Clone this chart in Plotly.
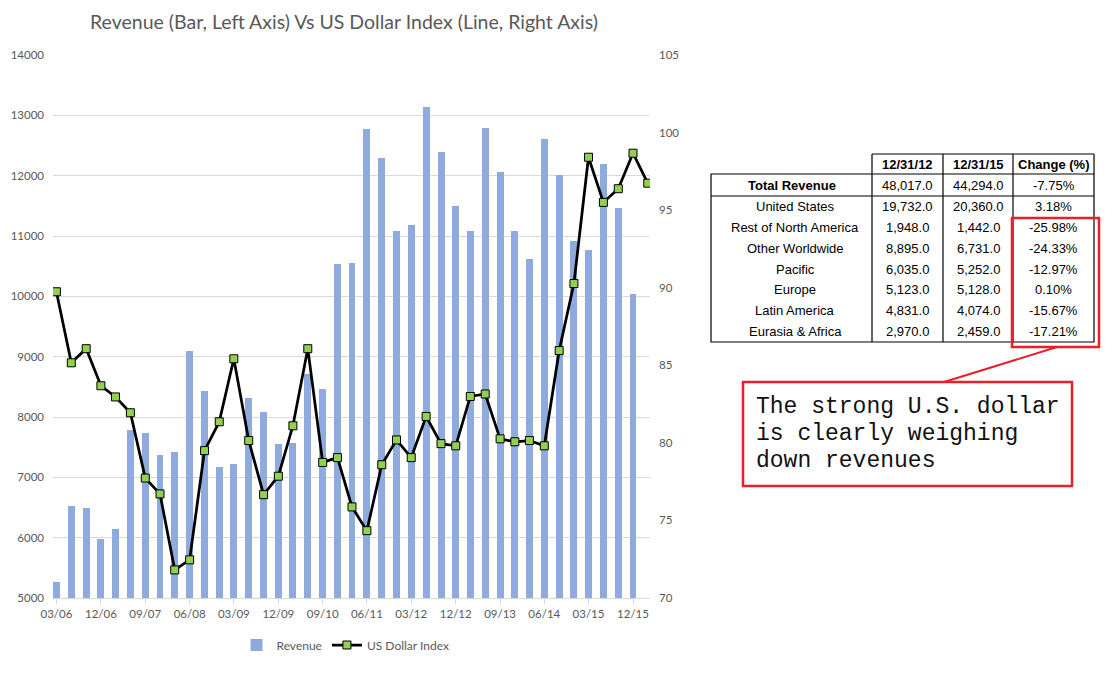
import plotly.graph_objects as go
import pandas as pd

# quarter ends shown on the chart (last one has no revenue bar yet)
quarters = ["03/06", "06/06", "09/06", "12/06", "03/07", "06/07", "09/07", "12/07",
            "03/08", "06/08", "09/08", "12/08", "03/09", "06/09", "09/09", "12/09",
            "03/10", "06/10", "09/10", "12/10", "03/11", "06/11", "09/11", "12/11",
            "03/12", "06/12", "09/12", "12/12", "03/13", "06/13", "09/13", "12/13",
            "03/14", "06/14", "09/14", "12/14", "03/15", "06/15", "09/15", "12/15",
            "03/16"]

revenue = [5260, 6520, 6490, 5980, 6140, 7790, 7740, 7370, 7420, 9095,
           8430, 7170, 7220, 8315, 8080, 7555, 7570, 8715, 8460, 10535,
           10555, 12780, 12300, 11090, 11190, 13130, 12385, 11500, 11090, 12795,
           12065, 11090, 10625, 12610, 12015, 10925, 10760, 12200, 11470, 10040]

usd_index = [89.74, 85.16, 86.07, 83.68, 82.96, 81.94, 77.73, 76.71, 71.81, 72.46,
             79.50, 81.36, 85.42, 80.15, 76.66, 77.85, 81.10, 86.07, 78.74, 79.05,
             75.87, 74.34, 78.59, 80.19, 79.05, 81.70, 79.95, 79.81, 82.99, 83.15,
             80.26, 80.07, 80.15, 79.81, 85.95, 90.27, 98.41, 95.50, 96.38, 98.67,
             96.74]

# regional revenue table
header = ["12/31/12", "12/31/15", "Change (%)"]
regions = ["United States", "Rest of North America", "Other Worldwide", "Pacific",
           "Europe", "Latin America", "Eurasia & Africa"]
rev_2012 = [19732.0, 1948.0, 8895.0, 6035.0, 5123.0, 4831.0, 2970.0]
rev_2015 = [20360.0, 1442.0, 6731.0, 5252.0, 5128.0, 4074.0, 2459.0]
total_2012 = 48017.0
total_2015 = 44294.0

note_lines = ["The strong U.S. dollar", "is clearly weighing", "down revenues"]

dates = pd.to_datetime(quarters, format="%m/%y")

W, H = 1115, 678
L, R, T, B = 53, 650, 55, 598  # plot area in pixels


def px(x):
    return (x - L) / (R - L)


def py(y):
    return (B - y) / (B - T)


fig = go.Figure()
fig.add_trace(go.Bar(
    x=dates[:len(revenue)], y=revenue, name="Revenue",
    marker=dict(color="#8FAADC", line=dict(width=0)),
    width=43 * 86400000,
))
fig.add_trace(go.Scatter(
    x=dates, y=usd_index, name="US Dollar Index", yaxis="y2",
    mode="lines+markers",
    line=dict(color="black", width=2.75),
    marker=dict(symbol="square", size=8, color="#92D050",
                line=dict(color="black", width=1)),
))

grey = "#595959"
fig.update_layout(
    width=W, height=H,
    margin=dict(l=L, r=W - R, t=T, b=H - B, pad=0),
    paper_bgcolor="white", plot_bgcolor="white",
    font=dict(family="Lato", color=grey, size=11),
    title=dict(text="Revenue (Bar, Left Axis) Vs US Dollar Index (Line, Right Axis)",
               x=344 / W, xanchor="center", y=1 - 22 / H, yanchor="middle",
               font=dict(family="Lato", size=19.5, color=grey)),
    showlegend=True,
    legend=dict(orientation="h", x=0.49, xanchor="center",
                y=py(645), yanchor="middle", font=dict(size=12, color=grey)),
    bargap=0,
    xaxis=dict(type="date", range=["2006-02-08", "2016-03-15"],
               tick0="2006-03-01", dtick="M9", tickformat="%m/%y",
               showgrid=False, showline=True, linecolor="#D9D9D9", linewidth=1,
               ticks="outside", ticklen=5, tickcolor="#D9D9D9",
               tickfont=dict(size=11.5, color=grey)),
    yaxis=dict(range=[5000, 14000], dtick=1000, tickformat="d", showgrid=True,
               gridcolor="#D9D9D9", gridwidth=1, zeroline=False,
               ticklabelstandoff=8, tickfont=dict(size=11.5, color=grey)),
    yaxis2=dict(range=[70, 105], dtick=5, overlaying="y", side="right",
                showgrid=False, zeroline=False, ticklabelstandoff=8,
                tickfont=dict(size=11.5, color=grey)),
)

# ---- table drawn with shapes + annotations ----
tl, c1, c2, c3, tr = 711, 872, 943, 1013, 1094
y_head, y_tot, y_body, y_end = 154, 174, 196, 342
row_h = (y_end - y_body) / len(regions)

shapes = []


def line(x0, y0, x1, y1, color="black", width=1.2):
    shapes.append(dict(type="line", xref="paper", yref="paper",
                       x0=px(x0), y0=py(y0), x1=px(x1), y1=py(y1),
                       line=dict(color=color, width=width)))


def rect(x0, y0, x1, y1, color, width):
    shapes.append(dict(type="rect", xref="paper", yref="paper",
                       x0=px(x0), y0=py(y0), x1=px(x1), y1=py(y1),
                       line=dict(color=color, width=width), fillcolor="rgba(0,0,0,0)"))


rect(tl, y_tot, tr, y_end, "black", 1.2)
line(c1, y_head, tr, y_head)
line(tr, y_head, tr, y_tot)
for cx in (c1, c2, c3):
    line(cx, y_head, cx, y_end)
line(tl, y_body, tr, y_body)

annotations = []


def text(x, y, s, size=13, bold=False, family="Liberation Sans", color="black", anchor="center"):
    if bold:
        s = "<b>" + s + "</b>"
    annotations.append(dict(x=px(x), y=py(y), xref="paper", yref="paper", text=s,
                            showarrow=False, xanchor=anchor, yanchor="middle",
                            font=dict(family=family, size=size, color=color)))


col_mid = [(tl + c1) / 2 + 4, (c1 + c2) / 2, (c2 + c3) / 2, (c3 + tr) / 2]
for i, h in enumerate(header):
    text(col_mid[i + 1], (y_head + y_tot) / 2, h, bold=True)

text(col_mid[0] - 4, (y_tot + y_body) / 2, "Total Revenue", bold=True)
text(col_mid[1], (y_tot + y_body) / 2, f"{total_2012:,.1f}")
text(col_mid[2], (y_tot + y_body) / 2, f"{total_2015:,.1f}")
text(col_mid[3], (y_tot + y_body) / 2, f"{(total_2015 / total_2012 - 1) * 100:.2f}%")

for i, reg in enumerate(regions):
    yc = y_body + row_h * (i + 0.5)
    text(col_mid[0], yc, reg)
    text(col_mid[1], yc, f"{rev_2012[i]:,.1f}")
    text(col_mid[2], yc, f"{rev_2015[i]:,.1f}")
    text(col_mid[3], yc, f"{(rev_2015[i] / rev_2012[i] - 1) * 100:.2f}%")

# red callout
red = "#E8202A"
rect(1012, 218, 1099, 347, red, 2.5)
line(1057, 347, 944, 382, red, 2)
rect(743, 382, 1072, 486, red, 2.5)
for i, s in enumerate(note_lines):
    text(754, 407 + 27 * i, s, size=23, family="Liberation Mono", color="#111111", anchor="left")

fig.update_layout(shapes=shapes, annotations=annotations)

# drop the default page margin so the figure sits at the window origin
fig.write_html("out.html", config={"displayModeBar": False},
               post_script="document.body.style.margin='0';")
